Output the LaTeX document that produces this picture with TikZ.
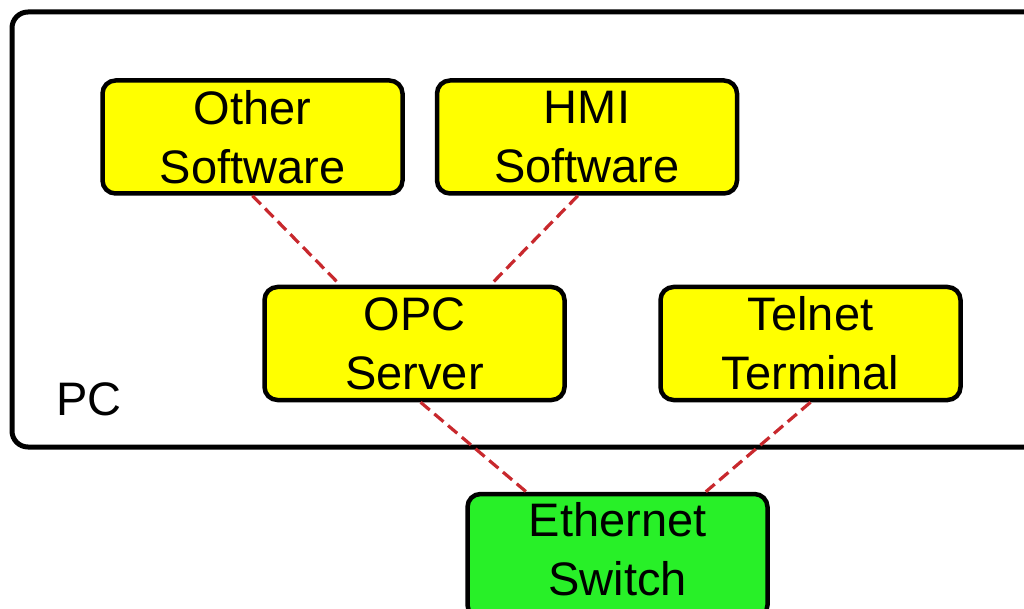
\documentclass[tikz,border=0pt]{standalone}
\usepackage{fontspec}
\setmainfont{Liberation Sans}
\usetikzlibrary{calc}
\definecolor{boxyellow}{RGB}{255,255,0}
\definecolor{boxgreen}{RGB}{40,240,40}
\definecolor{linkred}{RGB}{200,40,45}
\tikzset{
  unit/.style={draw=black, line width=4.5pt, rounded corners=13pt, fill=boxyellow,
    minimum width=300pt, minimum height=113pt, inner sep=0pt, align=center,
    font=\fontsize{47}{59}\selectfont},
  link/.style={draw=linkred, line width=3.2pt, dash pattern=on 12pt off 6pt},
}
\begin{document}
\begin{tikzpicture}[x=1pt,y=-1pt]
\useasboundingbox (0,0) rectangle (1024,609);
\begin{scope}
\clip (0,0) rectangle (1024,609);
\draw[line width=5pt, rounded corners=16pt] (12,12) rectangle (1060,447);
\node[font=\fontsize{47}{59}\selectfont] (pc) at (89,399) {PC};
\node[unit] (other) at (252.5,137) {Other\\Software};
\node[unit] (hmi) at (587,137) {HMI\\Software};
\node[unit] (opc) at (414.5,343.5) {OPC\\Server};
\node[unit] (telnet) at (810.5,343.5) {Telnet\\Terminal};
\node[unit, fill=boxgreen, minimum height=124pt, text depth=14pt] (eth) at (617.5,556) {Ethernet\\Switch};
\draw[link] (other.south) -- ($(opc.north west)!0.255!(opc.north east)$);
\draw[link] ($(hmi.south west)!0.47!(hmi.south east)$) -- ($(opc.north west)!0.75!(opc.north east)$);
\draw[link] ($(opc.south west)!0.52!(opc.south east)$) -- ($(eth.north west)!0.2!(eth.north east)$);
\draw[link] (telnet.south) -- ($(eth.north west)!0.79!(eth.north east)$);
\end{scope}
\end{tikzpicture}
\end{document}
